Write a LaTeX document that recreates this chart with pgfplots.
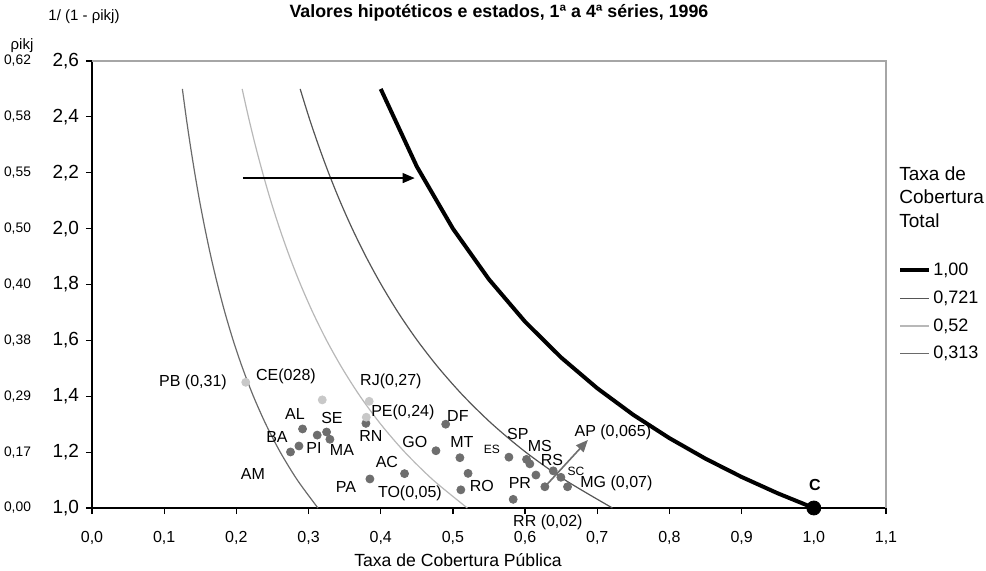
\documentclass[border=0pt]{standalone}
\usepackage{fontspec}
\setmainfont{Liberation Sans}
\usepackage{pgfplots}
\pgfplotsset{compat=1.18}
\usetikzlibrary{arrows.meta}
\definecolor{dk}{HTML}{6E6E6E}
\definecolor{lt}{HTML}{C8C8C8}
\definecolor{cA}{HTML}{555555}
\definecolor{cB}{HTML}{B8B8B8}
\definecolor{cC}{HTML}{6A6A6A}
\newcommand{\lbl}{\fontsize{8}{9}\selectfont}
\newcommand{\sml}{\fontsize{6}{7}\selectfont}
\newcommand{\secf}{\fontsize{6.9}{8}\selectfont}
\begin{document}
\begin{tikzpicture}
\useasboundingbox (0pt,0pt) rectangle (493pt,285pt);
\begin{axis}[
  at={(46pt,31pt)}, anchor=origin, scale only axis,
  width=397pt, height=223.5pt,
  xmin=0, xmax=1.1, ymin=1, ymax=2.6,
  axis x line*=bottom, axis y line*=left,
  axis line style={black, line width=0.6pt},
  xtick={0,0.1,0.2,0.3,0.4,0.5,0.6,0.7,0.8,0.9,1.0,1.1},
  ytick={1.0,1.2,1.4,1.6,1.8,2.0,2.2,2.4,2.6},
  tick align=outside, major tick length=3pt,
  tick style={black, line width=0.6pt},
  xticklabel style={font=\fontsize{8}{9}\selectfont},
  yticklabel style={font=\fontsize{9.5}{11}\selectfont},
  xticklabel shift=5pt,
  /pgf/number format/use comma,
  /pgf/number format/fixed,
  /pgf/number format/fixed zerofill,
  /pgf/number format/precision=1,
  /pgf/number format/assume math mode=true,
  clip=false,
  legend style={draw=none, fill=none, anchor=north west, at={(1.0151,0.5548)},
    font=\fontsize{9}{10}\selectfont, inner sep=0pt, row sep=3.9pt,
    nodes={inner sep=1pt, text height=6.5pt, text depth=1.5pt}},
  legend cell align=left,
  legend image code/.code={\draw[#1] (0pt,0pt) -- (14.5pt,0pt);},
]
\draw[gray!70, line width=0.6pt] (rel axis cs:0,1) -- (rel axis cs:1,1) -- (rel axis cs:1,0);

\addplot[black, line width=2pt] coordinates {
(0.40,2.5) (0.45,2.2222) (0.50,2.0) (0.55,1.8182) (0.60,1.6667) (0.65,1.5385)
(0.70,1.4286) (0.75,1.3333) (0.80,1.25) (0.85,1.1765) (0.90,1.1111) (0.95,1.0526) (1.00,1.0)};
\addlegendentry{1,00}
\addplot[cA, line width=0.6pt, smooth] coordinates {
(0.2884,2.5) (0.3004,2.4) (0.3135,2.3) (0.3277,2.2) (0.3433,2.1) (0.3605,2.0) (0.3795,1.9)
(0.4006,1.8) (0.4241,1.7) (0.4506,1.6) (0.4807,1.5) (0.5150,1.4) (0.5546,1.3) (0.6008,1.2)
(0.6555,1.1) (0.7210,1.0)};
\addlegendentry{0,721}
\addplot[cB, line width=0.6pt, smooth] coordinates {
(0.208,2.5) (0.2167,2.4) (0.2261,2.3) (0.2364,2.2) (0.2476,2.1) (0.26,2.0) (0.2737,1.9)
(0.2889,1.8) (0.3059,1.7) (0.325,1.6) (0.3467,1.5) (0.3714,1.4) (0.4,1.3) (0.4333,1.2)
(0.4727,1.1) (0.52,1.0)};
\addlegendentry{0,52}
\addplot[cC, line width=0.6pt, smooth] coordinates {
(0.1252,2.5) (0.1304,2.4) (0.1361,2.3) (0.1423,2.2) (0.149,2.1) (0.1565,2.0) (0.1647,1.9)
(0.1739,1.8) (0.1841,1.7) (0.1956,1.6) (0.2087,1.5) (0.2236,1.4) (0.2408,1.3) (0.2608,1.2)
(0.2845,1.1) (0.313,1.0)};
\addlegendentry{0,313}

% arrows
\draw[black, line width=0.6pt, -{Triangle[length=6pt,width=5pt]}] (axis cs:0.209,2.181) -- (axis cs:0.447,2.181);
\draw[dk, line width=0.8pt, -{Triangle[length=6pt,width=5pt]}] (axis cs:0.6274,1.076) -- (axis cs:0.687,1.2435);

% states
\addplot[only marks, mark=*, mark size=2pt, color=dk, mark options={draw=dk, fill=dk}, forget plot] coordinates {
(0.2917,1.283) (0.325,1.272) (0.312,1.261) (0.3296,1.246) (0.2867,1.222) (0.275,1.2006)
(0.3795,1.303) (0.4765,1.205) (0.490,1.300) (0.5097,1.180) (0.433,1.123) (0.385,1.104)
(0.521,1.124) (0.511,1.065) (0.5835,1.031) (0.5776,1.182) (0.602,1.174) (0.6066,1.158)
(0.615,1.118) (0.639,1.133) (0.6496,1.110) (0.6588,1.076) (0.6274,1.076)};
\addplot[only marks, mark=*, mark size=2pt, color=lt, mark options={draw=lt, fill=lt}, forget plot] coordinates {
(0.213,1.450) (0.319,1.387) (0.384,1.382) (0.380,1.325)};
\addplot[only marks, mark=*, mark size=3.5pt, color=black, forget plot] coordinates {(1.0,1.0)};

% labels
\node[font=\lbl] at (axis cs:0.1399,1.451) {PB (0,31)};
\node[font=\lbl] at (axis cs:0.2687,1.4726) {CE(028)};
\node[font=\lbl] at (axis cs:0.4141,1.4547) {RJ(0,27)};
\node[font=\lbl] at (axis cs:0.4307,1.3437) {PE(0,24)};
\node[font=\lbl] at (axis cs:0.3864,1.256) {RN};
\node[font=\lbl] at (axis cs:0.2812,1.3366) {AL};
\node[font=\lbl] at (axis cs:0.3324,1.3223) {SE};
\node[font=\lbl] at (axis cs:0.2562,1.2543) {BA};
\node[font=\lbl] at (axis cs:0.3075,1.215) {PI};
\node[font=\lbl] at (axis cs:0.3463,1.2077) {MA};
\node[font=\lbl] at (axis cs:0.223,1.122) {AM};
\node[font=\lbl] at (axis cs:0.4474,1.238) {GO};
\node[font=\lbl] at (axis cs:0.5069,1.3294) {DF};
\node[font=\lbl] at (axis cs:0.5125,1.238) {MT};
\node[font=\sml] at (axis cs:0.554,1.2095) {ES};
\node[font=\lbl] at (axis cs:0.4086,1.1648) {AC};
\node[font=\lbl] at (axis cs:0.3518,1.0753) {PA};
\node[font=\lbl] at (axis cs:0.4404,1.0538) {TO(0,05)};
\node[font=\lbl] at (axis cs:0.5402,1.0789) {RO};
\node[font=\lbl] at (axis cs:0.59,1.2632) {SP};
\node[font=\lbl] at (axis cs:0.6205,1.222) {MS};
\node[font=\lbl] at (axis cs:0.6371,1.172) {RS};
\node[font=\sml] at (axis cs:0.6704,1.1308) {SC};
\node[font=\lbl] at (axis cs:0.7265,1.0896) {MG (0,07)};
\node[font=\lbl] at (axis cs:0.5928,1.0896) {PR};
\node[font=\lbl] at (axis cs:0.7216,1.2704) {AP (0,065)};
\node[font=\lbl] at (axis cs:0.6316,0.95) {RR (0,02)};
\node[font=\lbl\bfseries] at (axis cs:1.0014,1.0825) {C};

% secondary scale
\node[font=\secf, anchor=east] at ([xshift=-27pt]axis cs:0,2.6) {0,62};
\node[font=\secf, anchor=east] at ([xshift=-27pt]axis cs:0,2.4) {0,58};
\node[font=\secf, anchor=east] at ([xshift=-27pt]axis cs:0,2.2) {0,55};
\node[font=\secf, anchor=east] at ([xshift=-27pt]axis cs:0,2.0) {0,50};
\node[font=\secf, anchor=east] at ([xshift=-27pt]axis cs:0,1.8) {0,40};
\node[font=\secf, anchor=east] at ([xshift=-27pt]axis cs:0,1.6) {0,38};
\node[font=\secf, anchor=east] at ([xshift=-27pt]axis cs:0,1.4) {0,29};
\node[font=\secf, anchor=east] at ([xshift=-27pt]axis cs:0,1.2) {0,17};
\node[font=\secf, anchor=east] at ([xshift=-27pt]axis cs:0,1.0) {0,00};
\end{axis}
\node[font=\fontsize{8.9}{10}\selectfont\bfseries] at (249.5pt,278.5pt) {Valores hipotéticos e estados, 1ª a 4ª séries, 1996};
\node[font=\fontsize{7.5}{9}\selectfont] at (42pt,276.5pt) {1/ (1 - ρikj)};
\node[font=\fontsize{7.5}{9}\selectfont] at (11pt,262pt) {ρikj};
\node[font=\fontsize{8.8}{10}\selectfont] at (229pt,5pt) {Taxa de Cobertura Pública};
\node[font=\fontsize{9.5}{11}\selectfont, anchor=west, inner sep=0pt] at (449.5pt,198.2pt) {Taxa de};
\node[font=\fontsize{9.5}{11}\selectfont, anchor=west, inner sep=0pt] at (449.5pt,186.5pt) {Cobertura};
\node[font=\fontsize{9.5}{11}\selectfont, anchor=west, inner sep=0pt] at (449.5pt,174.5pt) {Total};
\end{tikzpicture}
\end{document}
